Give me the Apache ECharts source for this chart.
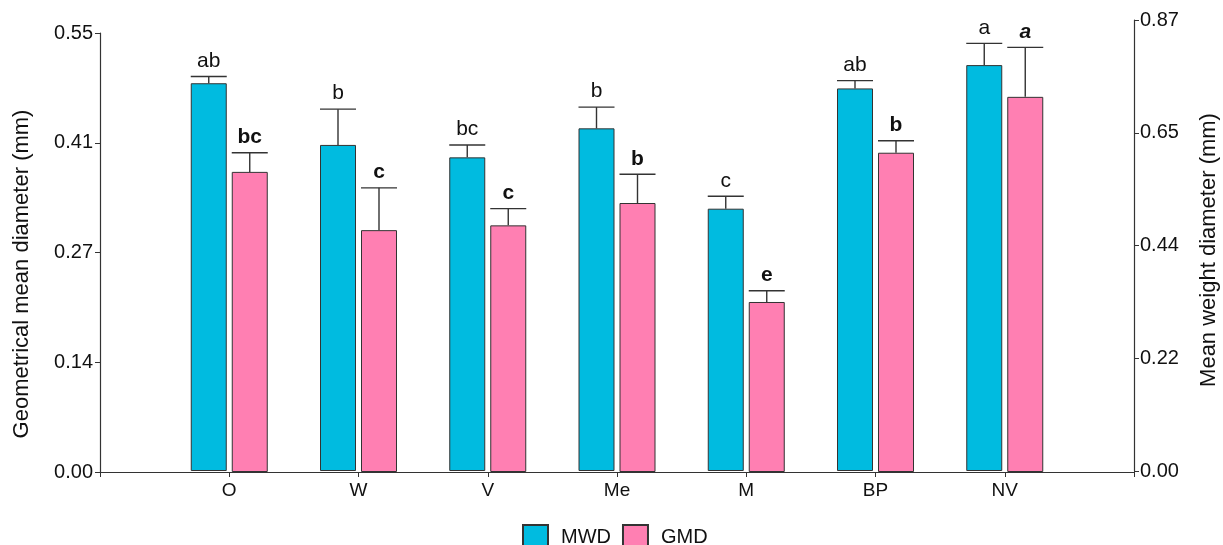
<!DOCTYPE html>
<html>
<head>
<meta charset="utf-8">
<script src="https://cdn.jsdelivr.net/npm/echarts@6/dist/echarts.min.js"></script>
<style>
html,body{margin:0;padding:0;background:#fff;}
#chart{width:1223px;height:545px;}
</style>
</head>
<body>
<div id="chart"></div>
<script>
// ---- data ----
const categories = ['O', 'W', 'V', 'Me', 'M', 'BP', 'NV'];
const mwdValues = [0.748, 0.629, 0.605, 0.661, 0.506, 0.738, 0.783];
const mwdErrors = [0.013, 0.069, 0.024, 0.041, 0.024, 0.015, 0.042];
const mwdLetters = ['ab', 'b', 'bc', 'b', 'c', 'ab', 'a'];
const gmdValues = [0.376, 0.303, 0.309, 0.337, 0.213, 0.400, 0.470];
const gmdErrors = [0.024, 0.053, 0.021, 0.036, 0.014, 0.015, 0.062];
const gmdLetters = ['bc', 'c', 'c', 'b', 'e', 'b', 'a'];
const leftTickLabels = ['0.00', '0.14', '0.27', '0.41', '0.55'];
const rightTickLabels = ['0.00', '0.22', '0.44', '0.65', '0.87'];
const leftMax = 0.55;
const rightMax = 0.87;

// ---- styling / layout ----
const FONT = '"Liberation Sans", Arial, Helvetica, sans-serif';
const CYAN = '#00BBE0';
const PINK = '#FF7FB2';
const EDGE = '#333333';
const BAR_W = 36;
const BAR_GAP = 5;
const HALF = (BAR_W + BAR_GAP) / 2;

const axisCats = [''].concat(categories, ['']);
const pad = arr => ['-'].concat(arr, ['-']);

function errRender(values, errors, letters, dx, bold) {
  return function (params, api) {
    const i = params.dataIndex;
    const base = api.coord([api.value(0), api.value(1)]);
    const top = api.coord([api.value(0), api.value(1) + api.value(2)]);
    const x = base[0] + dx;
    const italic = bold && i === letters.length - 1;
    return {
      type: 'group',
      children: [
        { type: 'line', shape: { x1: x, y1: base[1], x2: x, y2: top[1] },
          style: { stroke: EDGE, lineWidth: 1.4 } },
        { type: 'line', shape: { x1: x - BAR_W / 2, y1: top[1], x2: x + BAR_W / 2, y2: top[1] },
          style: { stroke: EDGE, lineWidth: 1.4 } },
        { type: 'text', x: x, y: top[1] - 5,
          style: { text: letters[i], textAlign: 'center', textVerticalAlign: 'bottom',
            fontSize: 21, fontFamily: FONT, fill: '#111',
            fontWeight: bold ? 'bold' : 'normal', fontStyle: italic ? 'italic' : 'normal' } }
      ]
    };
  };
}

const errData = (values, errors) => values.map((v, i) => [i + 1, v, errors[i]]);

const chart = echarts.init(document.getElementById('chart'), null, { renderer: 'canvas' });

const commonX = {
  type: 'category',
  data: axisCats,
  boundaryGap: false,
  axisLine: { lineStyle: { color: EDGE, width: 1.2 } },
  axisTick: { length: 5, lineStyle: { color: EDGE } },
  axisLabel: { fontSize: 19, fontFamily: FONT, color: '#111', margin: 9 },
  splitLine: { show: false }
};

chart.setOption({
  animation: false,
  backgroundColor: '#ffffff',
  textStyle: { fontFamily: FONT },
  grid: [
    { left: 100, right: 89, top: 33, bottom: 73 },
    { left: 100, right: 89, top: 20, bottom: 74 }
  ],
  xAxis: [
    Object.assign({ gridIndex: 0 }, commonX),
    Object.assign({}, commonX, { gridIndex: 1, show: false })
  ],
  yAxis: [
    {
      gridIndex: 0, type: 'value', position: 'left',
      min: 0, max: leftMax, interval: leftMax / 4,
      axisLine: { show: true, lineStyle: { color: EDGE, width: 1.2 } },
      axisTick: { show: true, length: 5, lineStyle: { color: EDGE } },
      splitLine: { show: false },
      axisLabel: { fontSize: 20, fontFamily: FONT, color: '#111', margin: 7,
        formatter: v => leftTickLabels[Math.round(v / (leftMax / 4))] }
    },
    {
      gridIndex: 1, type: 'value', position: 'right',
      min: 0, max: rightMax, interval: rightMax / 4,
      axisLine: { show: true, lineStyle: { color: EDGE, width: 1.2 } },
      axisTick: { show: true, length: 5, lineStyle: { color: EDGE } },
      splitLine: { show: false },
      axisLabel: { fontSize: 20, fontFamily: FONT, color: '#111', margin: 6,
        formatter: v => rightTickLabels[Math.round(v / (rightMax / 4))] }
    }
  ],
  legend: {
    data: [{ name: 'MWD', icon: 'rect' }, { name: 'GMD', icon: 'rect' }],
    left: 517, top: 519,
    itemWidth: 25, itemHeight: 25, itemGap: 11,
    textStyle: { fontSize: 20, fontFamily: FONT, color: '#111', padding: [0, 0, 0, 8] }
  },
  graphic: [
    { type: 'text', x: 22, y: 274, rotation: Math.PI / 2,
      style: { text: 'Geometrical mean diameter (mm)', textAlign: 'center', textVerticalAlign: 'middle',
        fontSize: 22, fontFamily: FONT, fill: '#111' } },
    { type: 'text', x: 1209, y: 250, rotation: Math.PI / 2,
      style: { text: 'Mean weight diameter (mm)', textAlign: 'center', textVerticalAlign: 'middle',
        fontSize: 22, fontFamily: FONT, fill: '#111' } }
  ],
  series: [
    { name: 'MWD', type: 'bar', xAxisIndex: 1, yAxisIndex: 1, data: pad(mwdValues),
      barWidth: BAR_W, barGap: (BAR_GAP / BAR_W * 100) + '%',
      itemStyle: { color: CYAN, borderColor: EDGE, borderWidth: 1 } },
    { name: '_spacer1', type: 'bar', xAxisIndex: 1, yAxisIndex: 1, data: [],
      barWidth: BAR_W, barGap: (BAR_GAP / BAR_W * 100) + '%' },
    { name: '_spacer0', type: 'bar', xAxisIndex: 0, yAxisIndex: 0, data: [],
      barWidth: BAR_W, barGap: (BAR_GAP / BAR_W * 100) + '%' },
    { name: 'GMD', type: 'bar', xAxisIndex: 0, yAxisIndex: 0, data: pad(gmdValues),
      barWidth: BAR_W, barGap: (BAR_GAP / BAR_W * 100) + '%',
      itemStyle: { color: PINK, borderColor: EDGE, borderWidth: 1 } },
    { name: 'MWD err', type: 'custom', xAxisIndex: 1, yAxisIndex: 1, z: 5,
      data: errData(mwdValues, mwdErrors), encode: { x: 0, y: [1, 2] },
      renderItem: errRender(mwdValues, mwdErrors, mwdLetters, -HALF, false) },
    { name: 'GMD err', type: 'custom', xAxisIndex: 0, yAxisIndex: 0, z: 5,
      data: errData(gmdValues, gmdErrors), encode: { x: 0, y: [1, 2] },
      renderItem: errRender(gmdValues, gmdErrors, gmdLetters, HALF, true) }
  ]
});
</script>
</body>
</html>
